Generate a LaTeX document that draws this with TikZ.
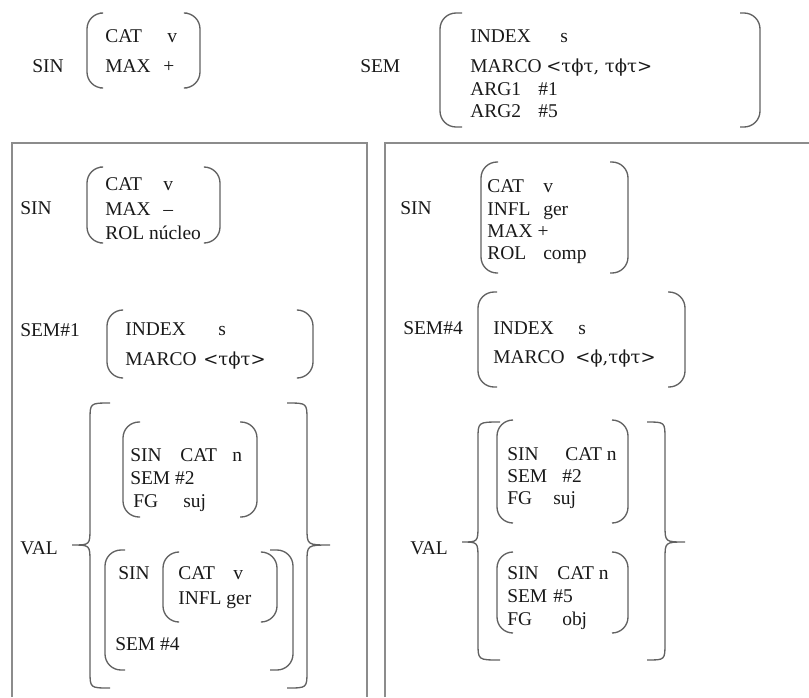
\documentclass[tikz,border=0pt]{standalone}
\usepackage{fontspec}
\setmainfont{Liberation Serif}
\newfontfamily\grk{DejaVu Serif}
\begin{document}
\begin{tikzpicture}[x=.75pt,y=-.75pt,
    txt/.style={anchor=base west,inner sep=0pt,text=black!90,font=\fontsize{14.6}{17}\selectfont},
    grktxt/.style={txt,font=\grk\fontsize{13.5}{17}\selectfont},
    brk/.style={draw=black!62,line width=1pt,rounded corners=12},
    boxline/.style={draw=black!45,line width=1.6pt}]
                \useasboundingbox (0,0) rectangle (809,697);
                % top
                \node[txt] (sin0) at (32,72) {SIN};
                \draw[brk] (100,13) -- (87,13) -- (87,88) -- (100,88);
                \node[txt] (cat0) at (105,42) {CAT};
                \node[txt] (v0) at (167,42) {v};
                \node[txt] (max0) at (105,72) {MAX};
                \node[txt] (plus0) at (163,72) {+};
                \draw[brk] (187,13) -- (200,13) -- (200,88) -- (187,88);
                \node[txt] (sem0) at (360,72) {SEM};
                \draw[brk] (462,13) -- (440,13) -- (440,127) -- (462,127);
                \node[txt] (index0) at (470,42) {INDEX};
                \node[txt] (s0) at (560,42) {s};
                \node[txt] (marco0) at (470,72) {MARCO};
                \node[grktxt] (frame0) at (546,72) {<τϕτ, τϕτ>};
                \node[txt] (argA) at (470,95) {ARG1};
                \node[txt] (argAv) at (538,95) {\#1};
                \node[txt] (argB) at (470,117) {ARG2};
                \node[txt] (argBv) at (538,117) {\#5};
                \draw[brk] (740,13) -- (760,13) -- (760,127) -- (740,127);
                % boxes
                \draw[boxline] (12,697) -- (12,143) -- (367,143) -- (367,697);
                \draw[boxline] (385,697) -- (385,143) -- (809,143);
                % left box
                \node[txt] (sin1) at (20,214) {SIN};
                \draw[brk] (100,167) -- (87,167) -- (87,243) -- (100,243);
                \node[txt] (cat1) at (105,190) {CAT};
                \node[txt] (v1) at (163,190) {v};
                \node[txt] (max1) at (105,215) {MAX};
                \node[txt] (minus1) at (163,215) {–};
                \node[txt] (rol1) at (105,239) {ROL núcleo};
                \draw[brk] (205,167) -- (220,167) -- (220,243) -- (205,243);
                \node[txt] (sem1) at (20,336) {SEM\#1};
                \draw[brk] (122,310) -- (107,310) -- (107,378) -- (122,378);
                \node[txt] (index1) at (125,335) {INDEX};
                \node[txt] (s1) at (218,335) {s};
                \node[txt] (marco1) at (125,365) {MARCO};
                \node[grktxt] (frame1) at (203,365) {<τϕτ>};
                \draw[brk] (298,310) -- (313,310) -- (313,378) -- (298,378);
                \node[txt] (val1) at (20,554) {VAL};
                \draw[brk,rounded corners=0] (110,403) .. controls (90,403) .. (90,420) -- (90,528) .. controls (90,545) .. (72,545) .. controls (90,545) .. (90,562) -- (90,671) .. controls (90,688) .. (110,688);
                \draw[brk,rounded corners=0] (287,403) .. controls (307,403) .. (307,420) -- (307,528) .. controls (307,545) .. (330,545) .. controls (307,545) .. (307,562) -- (307,671) .. controls (307,688) .. (287,688);
                \draw[brk] (140,422) -- (123,422) -- (123,517) -- (140,517);
                \node[txt] (sin2) at (130,461) {SIN};
                \node[txt] (cat2) at (180,461) {CAT};
                \node[txt] (n2) at (232,461) {n};
                \node[txt] (sem2) at (130,484) {SEM \#2};
                \node[txt] (fg2) at (133,507) {FG};
                \node[txt] (suj2) at (183,507) {suj};
                \draw[brk] (240,422) -- (257,422) -- (257,517) -- (240,517);
                \draw[brk] (125,550) -- (105,550) -- (105,670) -- (125,670);
                \node[txt] (sin3) at (118,579) {SIN};
                \draw[brk] (178,552) -- (163,552) -- (163,622) -- (178,622);
                \node[txt] (cat3) at (178,579) {CAT};
                \node[txt] (v3) at (233,579) {v};
                \node[txt] (infl3) at (178,604) {INFL ger};
                \draw[brk] (262,552) -- (277,552) -- (277,622) -- (262,622);
                \node[txt] (sem3) at (115,650) {SEM \#4};
                \draw[brk] (270,550) -- (293,550) -- (293,670) -- (270,670);
                % right box
                \node[txt] (sin4) at (400,214) {SIN};
                \draw[brk] (498,162) -- (481,162) -- (481,273) -- (498,273);
                \node[txt] (cat4) at (487,192) {CAT};
                \node[txt] (v4) at (543,192) {v};
                \node[txt] (infl4) at (487,215) {INFL};
                \node[txt] (ger4) at (543,215) {ger};
                \node[txt] (max4) at (487,237) {MAX +};
                \node[txt] (rol4) at (487,259) {ROL};
                \node[txt] (comp4) at (543,259) {comp};
                \draw[brk] (610,162) -- (628,162) -- (628,273) -- (610,273);
                \node[txt] (sem4) at (403,334) {SEM\#4};
                \draw[brk] (497,292) -- (478,292) -- (478,387) -- (497,387);
                \node[txt] (index4) at (493,334) {INDEX};
                \node[txt] (s4) at (578,334) {s};
                \node[txt] (marco4) at (493,363) {MARCO};
                \node[grktxt] (frame4) at (575,363) {<ϕ,τϕτ>};
                \draw[brk] (668,292) -- (685,292) -- (685,387) -- (668,387);
                \node[txt] (val4) at (410,554) {VAL};
                \draw[brk,rounded corners=0] (500,422) .. controls (478,422) .. (478,439) -- (478,525) .. controls (478,542) .. (462,542) .. controls (478,542) .. (478,559) -- (478,643) .. controls (478,660) .. (500,660);
                \draw[brk,rounded corners=0] (647,422) .. controls (665,422) .. (665,439) -- (665,525) .. controls (665,542) .. (685,542) .. controls (665,542) .. (665,559) -- (665,643) .. controls (665,660) .. (647,660);
                \draw[brk] (513,420) -- (497,420) -- (497,523) -- (513,523);
                \node[txt] (sin5) at (507,460) {SIN};
                \node[txt] (cat5) at (565,460) {CAT n};
                \node[txt] (sem5) at (507,482) {SEM};
                \node[txt] (ref5) at (562,482) {\#2};
                \node[txt] (fg5) at (507,504) {FG};
                \node[txt] (suj5) at (553,504) {suj};
                \draw[brk] (612,420) -- (628,420) -- (628,523) -- (612,523);
                \draw[brk] (513,552) -- (497,552) -- (497,633) -- (513,633);
                \node[txt] (sin6) at (507,579) {SIN};
                \node[txt] (cat6) at (557,579) {CAT n};
                \node[txt] (sem6) at (507,602) {SEM};
                \node[txt] (ref6) at (553,602) {\#5};
                \node[txt] (fg6) at (507,625) {FG};
                \node[txt] (obj6) at (562,625) {obj};
                \draw[brk] (612,552) -- (628,552) -- (628,633) -- (612,633);
\end{tikzpicture}
\end{document}
